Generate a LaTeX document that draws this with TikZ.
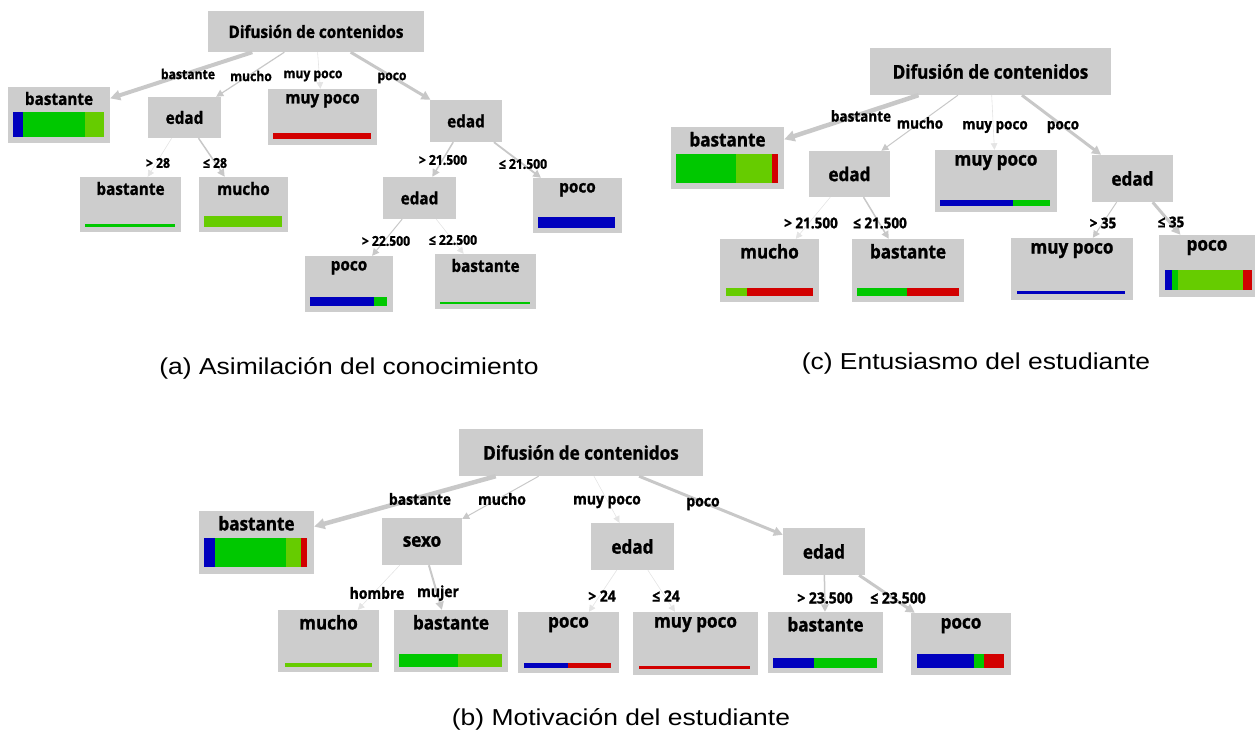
\documentclass[tikz,border=0pt]{standalone}
\usepackage{fontspec}
\newfontfamily\treefont[FakeStretch=0.9, BoldFeatures={FakeBold=1.2}]{Open Sans}
\newfontfamily\capfont[FakeStretch=1.15]{Liberation Sans}
\usetikzlibrary{arrows.meta,positioning}

\definecolor{boxgray}{RGB}{205,205,205}
\definecolor{edgegray}{RGB}{200,200,200}
\definecolor{clsblue}{RGB}{0,0,190}
\definecolor{clsgreen}{RGB}{0,200,0}
\definecolor{clslime}{RGB}{102,204,0}
\definecolor{clsred}{RGB}{210,0,0}

\tikzset{
  tfont/.style={font=\treefont\bfseries\fontsize{19}{22}\selectfont},
  lfont/.style={font=\treefont\bfseries\fontsize{15}{18}\selectfont},
  nodebox/.style={fill=boxgray, inner sep=0pt, tfont},
  leaftitle/.style={inner sep=0pt, tfont},
  edgelbl/.style={inner sep=0pt, lfont},
  link/.style={draw=edgegray, -{Triangle[length=6pt 1, width=6pt 1]}},
  faint/.style={link, draw=edgegray!50, line width=0.6pt},
  caption/.style={inner sep=0pt, font=\capfont\fontsize{23}{27}\selectfont},
}

\begin{document}
\begin{tikzpicture}[x=1pt,y=-1pt]
  % class distribution bar of a leaf: top, bottom, segments x0/x1/colour
  \def\distbar#1#2#3{\foreach \xa/\xb/\col in {#3} \fill[\col] (\xa,#1) rectangle (\xb,#2);}

  \useasboundingbox (0,0) rectangle (1256,736);

  % ---------------- (a) Asimilacion del conocimiento
  \begin{scope}[tfont/.style={font=\treefont\bfseries\fontsize{17}{20}\selectfont},
                lfont/.style={font=\treefont\bfseries\fontsize{13.5}{16}\selectfont}]
  % split nodes
  \node[nodebox, minimum width=216pt, minimum height=41pt] (aR) at (316,31.5) {Difusión de contenidos};
  \node[nodebox, minimum width=73pt, minimum height=41pt] (aS1) at (184.5,117.5) {edad};
  \node[nodebox, minimum width=72pt, minimum height=42pt] (aS2) at (466,121) {edad};
  \node[nodebox, minimum width=73pt, minimum height=42pt] (aS3) at (419.5,198) {edad};

  % leaves
  \node[nodebox, minimum width=102pt, minimum height=56pt] (aL1) at (59,115) {};
  \node[leaftitle, below=5pt of aL1.north] (aL1t) {bastante};
  \distbar{112}{137}{13/23/clsblue, 23/85/clsgreen, 85/104/clslime}
  \node[nodebox, minimum width=109pt, minimum height=56pt] (aL2) at (322.5,117) {};
  \node[leaftitle, below=5pt of aL2.north] (aL2t) {muy poco};
  \distbar{133}{139}{273/371/clsred}
  \node[nodebox, minimum width=101pt, minimum height=55pt] (aL3) at (130.5,204.5) {};
  \node[leaftitle, below=5pt of aL3.north] (aL3t) {bastante};
  \distbar{224}{227}{85/175/clsgreen}
  \node[nodebox, minimum width=89pt, minimum height=55pt] (aL4) at (243.5,204.5) {};
  \node[leaftitle, below=5pt of aL4.north] (aL4t) {mucho};
  \distbar{216}{227}{204/282/clslime}
  \node[nodebox, minimum width=89pt, minimum height=55pt] (aL5) at (577.5,205.5) {};
  \node[leaftitle, below=5pt of aL5.north] (aL5t) {poco};
  \distbar{217}{228}{538/615/clsblue}
  \node[nodebox, minimum width=88pt, minimum height=56pt] (aL6) at (349,284) {};
  \node[leaftitle, below=5pt of aL6.north] (aL6t) {poco};
  \distbar{297}{306}{310/374/clsblue, 374/387/clsgreen}
  \node[nodebox, minimum width=101pt, minimum height=55pt] (aL7) at (485.5,281.5) {};
  \node[leaftitle, below=5pt of aL7.north] (aL7t) {bastante};
  \distbar{302}{304}{440/530/clsgreen}

  % branches
  \draw[link, line width=4pt] (aR) -- (aL1);
  \draw[link, line width=1.2pt] (aR) -- (aS1);
  \draw[faint] (aR) -- (aL2);
  \draw[link, line width=3pt] (aR) -- (aS2);
  \draw[faint] (aS1) -- (aL3);
  \draw[link, line width=1.5pt] (aS1) -- (aL4);
  \draw[link, line width=1.5pt] (aS2) -- (aS3);
  \draw[link, line width=1.8pt] (aS2) -- (aL5);
  \draw[link, line width=1pt] (aS3) -- (aL6);
  \draw[faint] (aS3) -- (aL7);

  % branch labels
  \node[edgelbl] (aE1) at (188,74) {bastante};
  \node[edgelbl] (aE2) at (251,76) {mucho};
  \node[edgelbl] (aE3) at (313,76) {muy poco};
  \node[edgelbl] (aE4) at (392,78) {poco};
  \node[edgelbl] (aE5) at (158,163) {> 28};
  \node[edgelbl] (aE6) at (215,163) {≤ 28};
  \node[edgelbl] (aE7) at (443,160) {> 21.500};
  \node[edgelbl] (aE8) at (523,164) {≤ 21.500};
  \node[edgelbl] (aE9) at (386,241) {> 22.500};
  \node[edgelbl] (aE10) at (453,240) {≤ 22.500};
  \end{scope}

  % ---------------- (c) Entusiasmo del estudiante
  \begin{scope}[tfont/.style={font=\treefont\bfseries\fontsize{19}{22}\selectfont},
                lfont/.style={font=\treefont\bfseries\fontsize{15}{18}\selectfont}]
  \node[nodebox, minimum width=241pt, minimum height=47pt] (cR) at (990.5,71.5) {Difusión de contenidos};
  \node[nodebox, minimum width=81pt, minimum height=46pt] (cS1) at (849.5,174) {edad};
  \node[nodebox, minimum width=81pt, minimum height=47pt] (cS2) at (1132.5,178.5) {edad};

  \node[nodebox, minimum width=113pt, minimum height=62pt] (cL1) at (727.5,158) {};
  \node[leaftitle, below=5pt of cL1.north] (cL1t) {bastante};
  \distbar{154}{183}{676/736/clsgreen, 736/772/clslime, 772/778/clsred}
  \node[nodebox, minimum width=122pt, minimum height=62pt] (cL2) at (996,181) {};
  \node[leaftitle, below=5pt of cL2.north] (cL2t) {muy poco};
  \distbar{200}{206}{940/1013/clsblue, 1013/1050/clsgreen}
  \node[nodebox, minimum width=99pt, minimum height=63pt] (cL3) at (769.5,270.5) {};
  \node[leaftitle, below=5pt of cL3.north] (cL3t) {mucho};
  \distbar{288}{296}{726/747/clslime, 747/813/clsred}
  \node[nodebox, minimum width=112pt, minimum height=63pt] (cL4) at (908,270.5) {};
  \node[leaftitle, below=5pt of cL4.north] (cL4t) {bastante};
  \distbar{288}{296}{857/907/clsgreen, 907/959/clsred}
  \node[nodebox, minimum width=122pt, minimum height=62pt] (cL5) at (1072,269) {};
  \node[leaftitle, below=5pt of cL5.north] (cL5t) {muy poco};
  \distbar{291}{294}{1017/1125/clsblue}
  \node[nodebox, minimum width=96pt, minimum height=62pt] (cL6) at (1207,266) {};
  \node[leaftitle, below=5pt of cL6.north] (cL6t) {poco};
  \distbar{270}{290}{1165/1172/clsblue, 1172/1178/clsgreen, 1178/1243/clslime, 1243/1252/clsred}

  \draw[link, line width=4.5pt] (cR) -- (cL1);
  \draw[link, line width=1pt] (cR) -- (cS1);
  \draw[faint] (cR) -- (cL2);
  \draw[link, line width=3pt] (cR) -- (cS2);
  \draw[faint] (cS1) -- (cL3);
  \draw[link, line width=1.5pt] (cS1) -- (cL4);
  \draw[link, line width=1pt] (cS2) -- (cL5);
  \draw[link, line width=3pt] (cS2) -- (cL6);

  \node[edgelbl] (cE1) at (861,116) {bastante};
  \node[edgelbl] (cE2) at (920,123) {mucho};
  \node[edgelbl] (cE3) at (995,127) {muy poco};
  \node[edgelbl] (cE4) at (1063,127) {poco};
  \node[edgelbl] (cE5) at (811,223) {> 21.500};
  \node[edgelbl] (cE6) at (880,223) {≤ 21.500};
  \node[edgelbl] (cE7) at (1103,223) {> 35};
  \node[edgelbl] (cE8) at (1171,222) {≤ 35};
  \end{scope}

  % ---------------- (b) Motivacion del estudiante
  \begin{scope}[tfont/.style={font=\treefont\bfseries\fontsize{19}{22}\selectfont},
                lfont/.style={font=\treefont\bfseries\fontsize{15.5}{18}\selectfont}]
  \node[nodebox, minimum width=244pt, minimum height=47pt] (bR) at (581,452.5) {Difusión de contenidos};
  \node[nodebox, minimum width=80pt, minimum height=47pt] (bS1) at (422,541.5) {sexo};
  \node[nodebox, minimum width=83pt, minimum height=47pt] (bS2) at (632.5,546.5) {edad};
  \node[nodebox, minimum width=82pt, minimum height=47pt] (bS3) at (824,551.5) {edad};

  \node[nodebox, minimum width=115pt, minimum height=63pt] (bL1) at (256.5,542.5) {};
  \node[leaftitle, below=5pt of bL1.north] (bL1t) {bastante};
  \distbar{538}{567}{204/215/clsblue, 215/286/clsgreen, 286/301/clslime, 301/307/clsred}
  \node[nodebox, minimum width=101pt, minimum height=62pt] (bL2) at (328.5,641) {};
  \node[leaftitle, below=5pt of bL2.north] (bL2t) {mucho};
  \distbar{663}{667}{285/372/clslime}
  \node[nodebox, minimum width=114pt, minimum height=62pt] (bL3) at (451,641) {};
  \node[leaftitle, below=5pt of bL3.north] (bL3t) {bastante};
  \distbar{654}{667}{399/458/clsgreen, 458/502/clslime}
  \node[nodebox, minimum width=101pt, minimum height=61pt] (bL4) at (568.5,642.5) {};
  \node[leaftitle, below=5pt of bL4.north] (bL4t) {poco};
  \distbar{663}{668}{524/568/clsblue, 568/611/clsred}
  \node[nodebox, minimum width=125pt, minimum height=63pt] (bL5) at (695.5,643.5) {};
  \node[leaftitle, below=5pt of bL5.north] (bL5t) {muy poco};
  \distbar{666}{669}{639/750/clsred}
  \node[nodebox, minimum width=115pt, minimum height=61pt] (bL6) at (825.5,642.5) {};
  \node[leaftitle, below=5pt of bL6.north] (bL6t) {bastante};
  \distbar{658}{668}{773/814/clsblue, 814/877/clsgreen}
  \node[nodebox, minimum width=100pt, minimum height=62pt] (bL7) at (961,644) {};
  \node[leaftitle, below=5pt of bL7.north] (bL7t) {poco};
  \distbar{654}{668}{917/974/clsblue, 974/984/clsgreen, 984/1004/clsred}

  \draw[link, line width=4.5pt] (bR) -- (bL1);
  \draw[link, line width=1pt] (bR) -- (bS1);
  \draw[faint] (bR) -- (bS2);
  \draw[link, line width=3pt] (bR) -- (bS3);
  \draw[faint] (bS1) -- (bL2);
  \draw[link, line width=2pt] (bS1) -- (bL3);
  \draw[faint] (bS2) -- (bL4);
  \draw[faint] (bS2) -- (bL5);
  \draw[link, line width=1.5pt] (bS3) -- (bL6);
  \draw[link, line width=3pt] (bS3) -- (bL7);

  \node[edgelbl] (bE1) at (420,499) {bastante};
  \node[edgelbl] (bE2) at (502,499) {mucho};
  \node[edgelbl] (bE3) at (607,502) {muy poco};
  \node[edgelbl] (bE4) at (703,504) {poco};
  \node[edgelbl] (bE5) at (377,593) {hombre};
  \node[edgelbl] (bE6) at (438,593) {mujer};
  \node[edgelbl] (bE7) at (602,596) {> 24};
  \node[edgelbl] (bE8) at (666,596) {≤ 24};
  \node[edgelbl] (bE9) at (825,598) {> 23.500};
  \node[edgelbl] (bE10) at (898,598) {≤ 23.500};
  \end{scope}

  % captions
  \node[caption] (capA) at (349,368) {(a) Asimilación del conocimiento};
  \node[caption] (capC) at (976,364) {(c) Entusiasmo del estudiante};
  \node[caption] (capB) at (621,719) {(b) Motivación del estudiante};
\end{tikzpicture}
\end{document}
